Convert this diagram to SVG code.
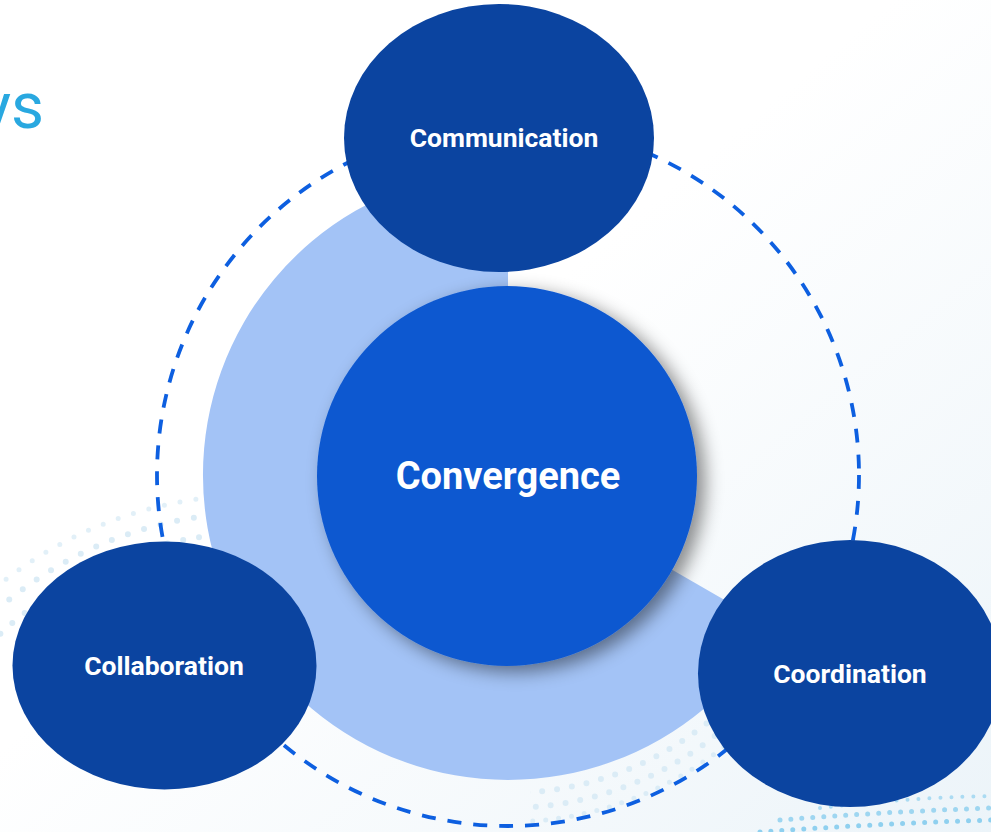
<svg xmlns="http://www.w3.org/2000/svg" width="991" height="832" viewBox="0 0 991 832">
  <defs>
    <linearGradient id="bg" x1="0" y1="0" x2="1" y2="1">
      <stop offset="0.45" stop-color="#ffffff"/>
      <stop offset="1" stop-color="#ecf4f9"/>
    </linearGradient>
    <filter id="shadow" x="-30%" y="-30%" width="160%" height="160%">
      <feDropShadow dx="8" dy="6" stdDeviation="9" flood-color="#000000" flood-opacity="0.45"/>
    </filter>
    <clipPath id="clipBL"><rect x="0" y="495" width="215" height="200"/></clipPath>
    <clipPath id="clipBR"><rect x="530" y="700" width="461" height="132"/></clipPath>
  </defs>
  <style>
    .node { fill: #0b44a0; }
    .label { font-family: Roboto, "Liberation Sans", sans-serif; font-weight: 700; fill: #ffffff; text-anchor: middle; }
    .dots { fill: none; stroke: #dbecf6; stroke-linecap: round; }
    .dots2 { fill: none; stroke: #8fd0ef; stroke-linecap: round; }
  </style>

  <rect x="0" y="0" width="991" height="832" fill="url(#bg)"/>

  <!-- decorative dots -->
  <g clip-path="url(#clipBL)">
    <circle cx="255" cy="905" r="372" class="dots" stroke-width="6" stroke-dasharray="0 16"/>
    <circle cx="255" cy="905" r="392" class="dots" stroke-width="6" stroke-dasharray="0 17"/>
    <circle cx="255" cy="905" r="410" class="dots" stroke-width="5" stroke-dasharray="0 16" opacity="0.8"/>
  </g>
  <g clip-path="url(#clipBR)">
    <circle cx="508" cy="475" r="318" class="dots" stroke-width="6" stroke-dasharray="0 15"/>
    <circle cx="508" cy="475" r="333" class="dots" stroke-width="6" stroke-dasharray="0 15"/>
    <circle cx="508" cy="475" r="347" class="dots" stroke-width="5" stroke-dasharray="0 13"/>
    <path d="M 820 808 Q 900 798 991 796" class="dots2" stroke-width="4" stroke-dasharray="0 11" opacity="0.7"/>
    <path d="M 780 820 Q 880 812 991 808" class="dots2" stroke-width="5" stroke-dasharray="0 11" opacity="0.85"/>
    <path d="M 760 832 Q 870 824 991 820" class="dots2" stroke-width="5" stroke-dasharray="0 11"/>
  </g>

  <!-- partial title text (cut off at the left edge, as in the source) -->
  <text x="44" y="128" font-family="Roboto, 'Liberation Sans', sans-serif" font-size="64" fill="#29a8e0" text-anchor="end">ys</text>

  <!-- light blue sector -->
  <path d="M 508 475 L 508 170 A 305 305 0 1 0 772.1 627.5 Z" fill="#a3c3f6"/>

  <!-- connectors: dashed ring -->
  <g id="connectors">
    <circle cx="508" cy="475" r="351" fill="none" stroke="#0d5fe0" stroke-width="3.8" stroke-dasharray="14 12"/>
  </g>

  <g id="convergence">
    <circle cx="507" cy="476" r="190" fill="#0d58d0" filter="url(#shadow)"/>
    <text x="508" y="489" class="label" font-size="38">Convergence</text>
  </g>

  <g id="communication">
    <ellipse cx="499" cy="138" rx="155" ry="134" class="node"/>
    <text x="504" y="147" class="label" font-size="26.5">Communication</text>
  </g>

  <g id="collaboration">
    <ellipse cx="164.5" cy="665.5" rx="152" ry="124" class="node"/>
    <text x="164" y="675" class="label" font-size="26.5">Collaboration</text>
  </g>

  <g id="coordination">
    <ellipse cx="850" cy="673.5" rx="152" ry="133.5" class="node"/>
    <text x="850" y="683" class="label" font-size="26.5">Coordination</text>
  </g>
</svg>
